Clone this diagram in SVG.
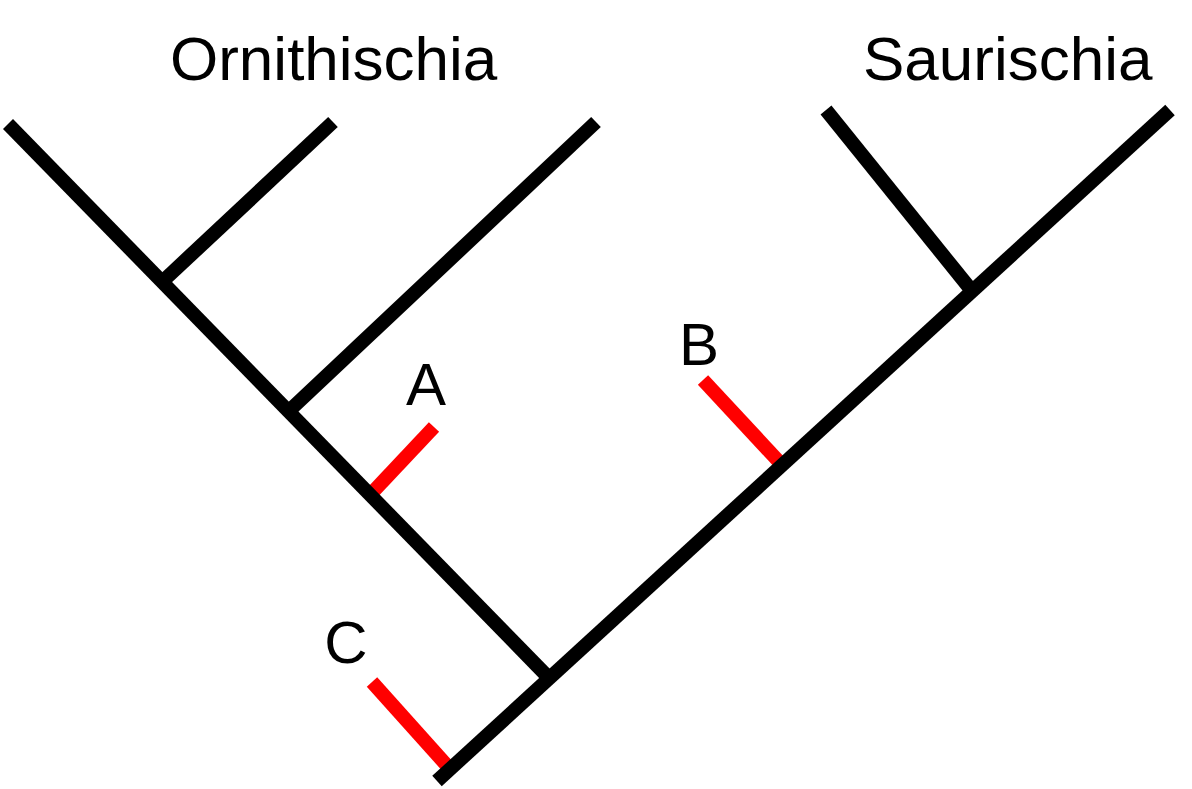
<svg xmlns="http://www.w3.org/2000/svg" width="1192" height="789" viewBox="0 0 1192 789">
<style>
.blk{stroke:#000;stroke-width:14;fill:none;stroke-linecap:butt}
.red{stroke:#ff0000;stroke-width:14;fill:none;stroke-linecap:butt}
.lbl{font-family:"Liberation Sans",Arial,sans-serif;font-size:62px;fill:#000}
.mk{font-family:"Liberation Sans",Arial,sans-serif;font-size:60px;fill:#000;text-anchor:middle}
</style>
<rect width="1192" height="789" fill="#fff"/>
<g id="markers">
<line class="red" x1="434" y1="427" x2="370" y2="495"/>
<line class="red" x1="703" y1="380" x2="782" y2="465"/>
<line class="red" x1="372" y1="682" x2="450" y2="769"/>
</g>
<g id="connectors">
<line class="blk" x1="437" y1="781" x2="1170" y2="110"/>
<line class="blk" x1="8" y1="124" x2="549" y2="678"/>
<line class="blk" x1="333" y1="122" x2="162" y2="282"/>
<line class="blk" x1="596" y1="122" x2="290" y2="410"/>
<line class="blk" x1="826" y1="110" x2="972" y2="291"/>
</g>
<g id="node-ornithischia"><text class="lbl" x="170" y="80">Ornithischia</text></g>
<g id="node-saurischia"><text class="lbl" x="863" y="80">Saurischia</text></g>
<g id="node-A"><text class="mk" x="426" y="405">A</text></g>
<g id="node-B"><text class="mk" x="699" y="365">B</text></g>
<g id="node-C"><text class="mk" x="346" y="663">C</text></g>
</svg>
